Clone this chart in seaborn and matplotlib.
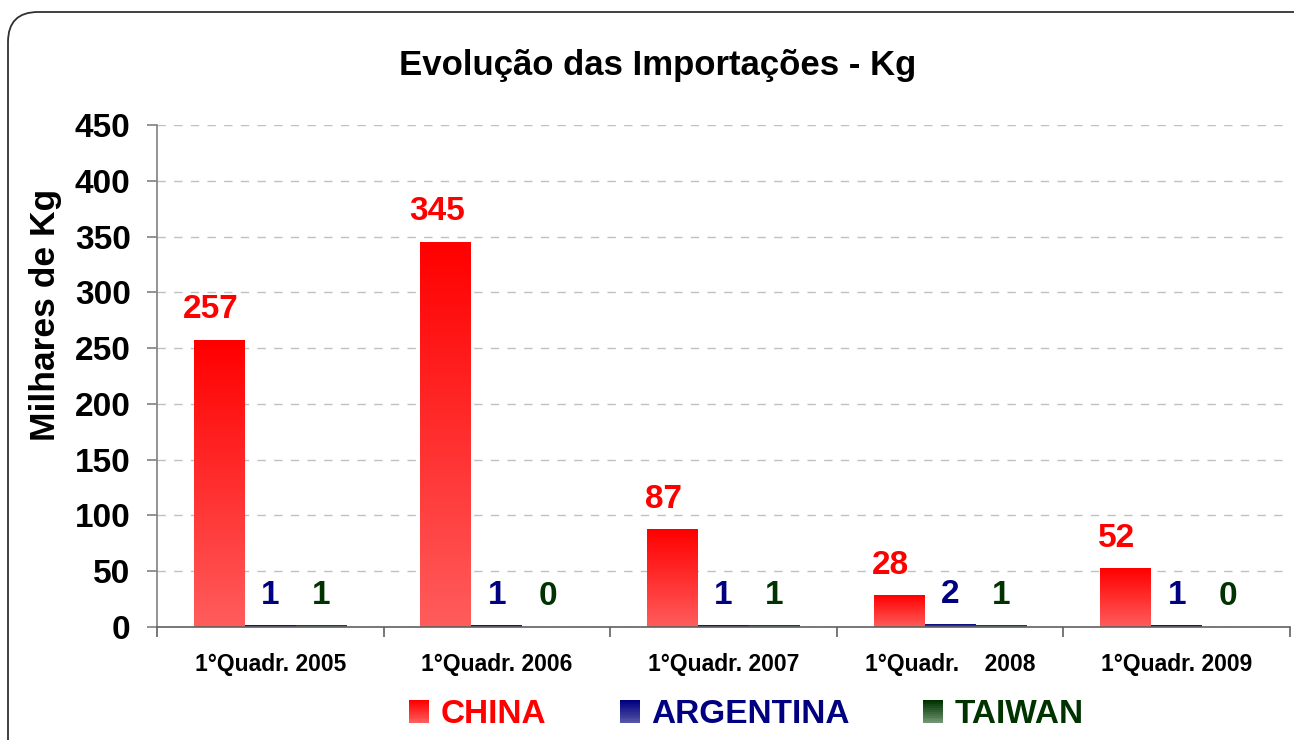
import numpy as np
import pandas as pd
import matplotlib
matplotlib.use("Agg")
import matplotlib.pyplot as plt
import seaborn as sns
from matplotlib.colors import to_rgb
from matplotlib.patches import Rectangle, FancyBboxPatch
from matplotlib.legend_handler import HandlerBase
from matplotlib.ticker import MultipleLocator, FixedLocator

# data
periodos = ["1°Quadr. 2005", "1°Quadr. 2006", "1°Quadr. 2007", "1°Quadr.    2008", "1°Quadr. 2009"]
paises = ["CHINA", "ARGENTINA", "TAIWAN"]
china = [257, 345, 87, 28, 52]
argentina = [1, 1, 1, 2, 1]
taiwan = [1, 0, 1, 1, 0]

cores_texto = {"CHINA": "#FF0000", "ARGENTINA": "#000080", "TAIWAN": "#003300"}
# gradient (top, bottom) for each series
gradientes = {
    "CHINA": ("#FF0000", "#FF5C5C"),
    "ARGENTINA": ("#000080", "#5555A8"),
    "TAIWAN": ("#003300", "#6F9570"),
}
# excel put the china labels a bit to the left
desloc_x = {"CHINA": -9, "ARGENTINA": 0, "TAIWAN": 0}

df = pd.DataFrame({
    "periodo": periodos * 3,
    "pais": [p for p in paises for _ in periodos],
    "valor": china + argentina + taiwan,
})

sns.set_style("white")
plt.rcParams["font.family"] = ["Liberation Sans", "DejaVu Sans"]
plt.rcParams["font.weight"] = "bold"
plt.rcParams["text.color"] = "black"
plt.rcParams["xtick.color"] = "black"
plt.rcParams["ytick.color"] = "black"

fig = plt.figure(figsize=(12.94, 7.40), dpi=100)
ax = fig.add_axes([157 / 1294, 1 - 627 / 740, (1290 - 157) / 1294, (627 - 125) / 740])

sns.barplot(data=df, x="periodo", y="valor", hue="pais", order=periodos, hue_order=paises,
            palette={p: gradientes[p][0] for p in paises}, width=0.675, ax=ax,
            legend=False, errorbar=None, saturation=1, linewidth=0)

ax.set_xlim(-0.5, len(periodos) - 0.5)
ax.set_ylim(0, 450)
xlim, ylim = ax.get_xlim(), ax.get_ylim()


def grad_img(top, bottom, n=64):
    t = np.array(to_rgb(top))
    b = np.array(to_rgb(bottom))
    f = np.linspace(0, 1, n)[:, None]
    return (t * (1 - f) + b * f)[:, None, :]


# repaint each bar with a vertical gradient, label it
bars = [p for p in ax.patches if isinstance(p, Rectangle) and p.get_width() > 0]
for i, pais in enumerate(paises):
    for j in range(len(periodos)):
        bar = bars[i * len(periodos) + j]
        x0, w = bar.get_x(), bar.get_width()
        h = bar.get_height()
        if h > 0:
            ax.imshow(grad_img(*gradientes[pais]), extent=[x0, x0 + w, 0, h],
                      aspect="auto", interpolation="bilinear", zorder=2)
        bar.set_visible(False)
        ax.annotate(f"{h:.0f}", (x0 + w / 2, h), xytext=(desloc_x[pais] * 0.72, 16),
                    textcoords="offset points", ha="center", va="baseline",
                    fontsize=24, fontweight="bold", color=cores_texto[pais], zorder=5)

ax.set_xlim(xlim)
ax.set_ylim(ylim)

# axes styling
for s in ["top", "right"]:
    ax.spines[s].set_visible(False)
ax.spines["left"].set_color("#808080")
ax.spines["bottom"].set_color("#606060")
ax.spines["left"].set_linewidth(1.2)
ax.spines["bottom"].set_linewidth(1.2)
ax.set_axisbelow(True)
ax.yaxis.set_major_locator(MultipleLocator(50))
ax.grid(axis="y", color="#C0C0C0", linestyle=(0, (6, 6)), linewidth=1)
ax.tick_params(axis="y", which="major", direction="out", length=7, width=1.2,
               color="#808080", labelcolor="black", pad=12, labelsize=24, left=True)
ax.xaxis.set_minor_locator(FixedLocator(np.arange(-0.5, len(periodos), 1.0)))
ax.tick_params(axis="x", which="minor", direction="out", length=7, width=1.2,
               color="#606060", bottom=True)
ax.tick_params(axis="x", which="major", length=0, pad=19, labelsize=16.5, labelcolor="black")
for lab in ax.get_yticklabels() + ax.get_xticklabels():
    lab.set_fontweight("bold")
ax.set_xlabel("")
ax.set_ylabel("")

fig.text(0.508, 0.911, "Evolução das Importações - Kg", ha="center", va="center",
         fontsize=25, fontweight="bold", color="black")
fig.text(0.0355, 0.574, "Milhares de Kg", rotation=90, ha="center", va="center",
         fontsize=25.5, fontweight="bold", color="black")


# legend with gradient squares
class GradKey:
    def __init__(self, top, bottom):
        self.top, self.bottom = top, bottom


class GradHandler(HandlerBase):
    def create_artists(self, legend, orig, xdescent, ydescent, width, height, fontsize, trans):
        n = 12
        t = np.array(to_rgb(orig.top))
        b = np.array(to_rgb(orig.bottom))
        arts = []
        for k in range(n):
            f = k / (n - 1)
            c = b * (1 - f) + t * f
            arts.append(Rectangle((-xdescent, -ydescent + height * k / n), width, height / n + 0.3,
                                  facecolor=c, edgecolor="none", transform=trans))
        return arts


handles = [GradKey(*gradientes[p]) for p in paises]
leg = fig.legend(handles, paises, handler_map={GradKey: GradHandler()}, loc="center",
                 bbox_to_anchor=(0.577, 0.034), ncol=3, frameon=False,
                 prop={"weight": "bold", "size": 24},
                 handlelength=0.6, handleheight=0.7, handletextpad=0.35, columnspacing=2.2)
for txt, p in zip(leg.get_texts(), paises):
    txt.set_color(cores_texto[p])

# rounded frame around the chart
frame = FancyBboxPatch((0.08, -0.5), 13.3, 7.28 + 0.5, boxstyle="round,pad=0,rounding_size=0.3",
                       transform=fig.dpi_scale_trans, facecolor="none", edgecolor="#303030",
                       linewidth=1.3, zorder=10)
fig.patches.append(frame)

fig.savefig("out.png", dpi=100)
